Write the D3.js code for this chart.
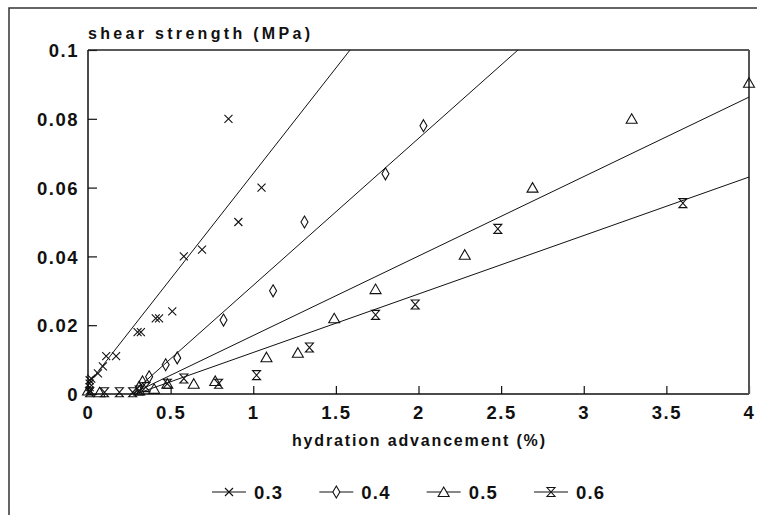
<!DOCTYPE html>
<html>
<head>
<meta charset="utf-8">
<script src="https://cdn.jsdelivr.net/npm/d3@7"></script>
<style>
    body { margin: 0; background: #ffffff; }
    text { font-family: "Liberation Sans", Arial, sans-serif; font-weight: bold; fill: #111; }
</style>
</head>
<body>
<div id="chart"></div>
<script>
// water/cement ratios
const ratios = ['0.3', '0.4', '0.5', '0.6'];

// hydration advancement (%) / shear strength (MPa)
const hyd03 = [0.01, 0.01, 0.01, 0.01, 0.02, 0.06, 0.09, 0.11, 0.17, 0.30, 0.32, 0.41, 0.43, 0.51, 0.58, 0.69, 0.91, 1.05, 0.85];
const shear03 = [0.001, 0.002, 0.003, 0.004, 0.0045, 0.006, 0.008, 0.011, 0.011, 0.018, 0.018, 0.022, 0.022, 0.024, 0.040, 0.042, 0.050, 0.060, 0.080];

const hyd04 = [0.31, 0.33, 0.37, 0.47, 0.54, 0.82, 1.12, 1.31, 1.80, 2.03];
const shear04 = [0.002, 0.0035, 0.005, 0.0085, 0.0105, 0.0215, 0.030, 0.050, 0.064, 0.078];

const hyd05 = [0.0, 0.07, 0.31, 0.40, 0.48, 0.64, 0.77, 1.08, 1.27, 1.49, 1.74, 2.28, 2.69, 3.29, 4.0];
const shear05 = [0.001, 0.0005, 0.001, 0.0015, 0.003, 0.003, 0.0038, 0.0107, 0.012, 0.022, 0.0305, 0.0405, 0.060, 0.080, 0.0905];

const hyd06 = [0.01, 0.10, 0.19, 0.27, 0.31, 0.35, 0.48, 0.58, 0.79, 1.02, 1.34, 1.74, 1.98, 2.48, 3.60];
const shear06 = [0.0005, 0.0005, 0.0005, 0.0005, 0.001, 0.002, 0.003, 0.0045, 0.003, 0.0055, 0.0135, 0.023, 0.026, 0.048, 0.0555];

// fitted lines: start point and slope
const fitStartX = [0, 0.26, 0.264, 0.29];
const fitStartY = [0.0028, 0, 0, 0];
const fitSlope = [0.0613, 0.0427, 0.0231, 0.0170];

const xTicks = [0, 0.5, 1, 1.5, 2, 2.5, 3, 3.5, 4];
const yTicks = [0, 0.02, 0.04, 0.06, 0.08, 0.1];
const xTickLabels = ['0', '0.5', '1', '1.5', '2', '2.5', '3', '3.5', '4'];
const yTickLabels = ['0', '0.02', '0.04', '0.06', '0.08', '0.1'];

const hydData = [hyd03, hyd04, hyd05, hyd06];
const shearData = [shear03, shear04, shear05, shear06];

const W = 757, H = 515;
const margin = { top: 50, right: 8, bottom: 121, left: 88 };
const width = W - margin.left - margin.right;
const height = H - margin.top - margin.bottom;

// marker shapes
function markerPath(i) {
    if (i === 0) return 'M-4,-4L4,4M-4,4L4,-4';
    if (i === 1) return 'M0,-6L3.5,0L0,6L-3.5,0Z';
    if (i === 2) return 'M0,-5L5.5,4.5L-5.5,4.5Z';
    return 'M-4,-4.5L4,-4.5L-4,4.5L4,4.5Z';
}

let svg = d3.select('#chart')
    .append('svg')
    .attr('width', W)
    .attr('height', H);

// outer frame (only left and top visible)
svg.append('path')
    .attr('d', `M9,${H}V8H${W}`)
    .attr('fill', 'none')
    .attr('stroke', '#333')
    .attr('stroke-width', 1.5);

const xScale = d3.scaleLinear().domain([0, 4]).range([0, width]);
const yScale = d3.scaleLinear().domain([0, 0.1]).range([height, 0]);

let g = svg.append('g')
    .attr('transform', `translate(${margin.left},${margin.top})`);

g.append('clipPath')
    .attr('id', 'plotClip')
    .append('rect')
    .attr('width', width)
    .attr('height', height);

// axes with inward ticks
const xAxis = g.append('g')
    .attr('transform', `translate(0,${height})`)
    .call(d3.axisBottom(xScale).tickValues(xTicks).tickSize(-8).tickFormat((d, i) => xTickLabels[i]));
const yAxis = g.append('g')
    .call(d3.axisLeft(yScale).tickValues(yTicks).tickSize(-9).tickFormat((d, i) => yTickLabels[i]));

[xAxis, yAxis].forEach(ax => {
    ax.select('.domain').remove();
    ax.selectAll('line').attr('stroke', '#111').attr('stroke-width', 1.2);
    ax.selectAll('text')
        .style('font-family', '"Liberation Sans", Arial, sans-serif')
        .style('font-weight', 'bold')
        .style('font-size', '18.5px')
        .style('letter-spacing', '1.5px')
        .attr('fill', '#111');
});
xAxis.selectAll('text').attr('dy', '0.95em').attr('y', 7);
yAxis.selectAll('text').attr('x', -9).attr('dy', '0.36em');

// plot frame
g.append('path')
    .attr('d', `M0,0V${height}H${width}`)
    .attr('fill', 'none')
    .attr('stroke', '#111')
    .attr('stroke-width', 1.5);
g.append('path')
    .attr('d', `M0,0H${width}`)
    .attr('fill', 'none')
    .attr('stroke', '#222')
    .attr('stroke-width', 1.5);
g.append('path')
    .attr('d', `M${width},0V${height}`)
    .attr('fill', 'none')
    .attr('stroke', '#555')
    .attr('stroke-width', 2);

// fitted lines
let fitGroup = g.append('g').attr('clip-path', 'url(#plotClip)');
ratios.forEach((r, i) => {
    let x0 = fitStartX[i], y0 = fitStartY[i];
    let x1 = 4, y1 = y0 + fitSlope[i] * (x1 - x0);
    fitGroup.append('line')
        .attr('x1', xScale(x0))
        .attr('y1', yScale(y0))
        .attr('x2', xScale(x1))
        .attr('y2', yScale(y1))
        .attr('stroke', '#111')
        .attr('stroke-width', 1);
});

// markers
ratios.forEach((r, i) => {
    let pts = hydData[i].map((h, j) => ({ x: h, y: shearData[i][j] }));
    g.append('g')
        .selectAll('path')
        .data(pts)
        .join('path')
        .attr('d', markerPath(i))
        .attr('transform', d => `translate(${xScale(d.x)},${yScale(d.y)})`)
        .attr('fill', 'none')
        .attr('stroke', '#111')
        .attr('stroke-width', 1.1);
});

// axis titles
svg.append('text')
    .attr('x', 88)
    .attr('y', 39)
    .attr('textLength', 222)
    .attr('lengthAdjust', 'spacing')
    .style('font-size', '16px')
    .text('shear strength (MPa)');

svg.append('text')
    .attr('x', 292)
    .attr('y', 446)
    .attr('textLength', 253)
    .attr('lengthAdjust', 'spacing')
    .style('font-size', '16px')
    .text('hydration advancement (%)');

// legend
const legendX = d3.scalePoint().domain(ratios).range([212, 534]);
let legend = svg.append('g');
ratios.forEach((r, i) => {
    let lx = legendX(r);
    let item = legend.append('g').attr('transform', `translate(${lx},492)`);
    item.append('line')
        .attr('x1', 0).attr('x2', 34)
        .attr('stroke', '#111').attr('stroke-width', 1);
    item.append('path')
        .attr('d', markerPath(i))
        .attr('transform', 'translate(17,0)')
        .attr('fill', '#fff')
        .attr('stroke', '#111')
        .attr('stroke-width', 1.1);
    item.append('text')
        .attr('x', 42)
        .attr('y', 6.5)
        .style('font-size', '18.5px')
        .style('letter-spacing', '1.2px')
        .text(r);
});
</script>
</body>
</html>
